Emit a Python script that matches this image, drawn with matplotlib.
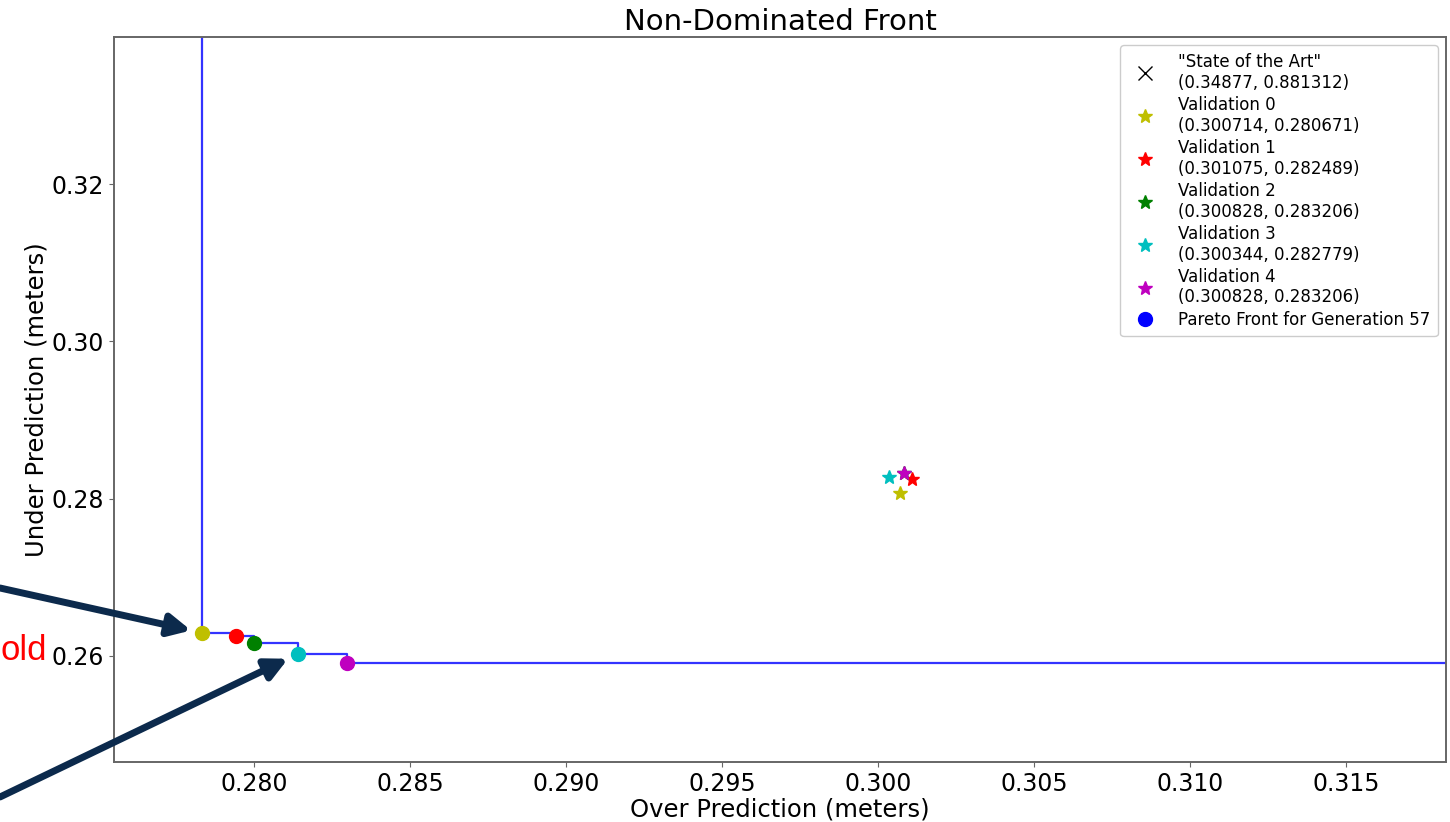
import matplotlib.pyplot as plt

# pareto front (generation 57)
front_x = [0.27833, 0.27942, 0.28000, 0.28141, 0.28298]
front_y = [0.26293, 0.26255, 0.26166, 0.26025, 0.25911]
front_colors = ['y', 'r', 'g', 'c', 'm']

# validation points (from legend)
val_names = ['Validation 0', 'Validation 1', 'Validation 2', 'Validation 3', 'Validation 4']
val_x = [0.300714, 0.301075, 0.300828, 0.300344, 0.300828]
val_y = [0.280671, 0.282489, 0.283206, 0.282779, 0.283206]
val_colors = ['y', 'r', 'g', 'c', 'm']

sota_x, sota_y = 0.34877, 0.881312

W, H = 1450, 822
fig = plt.figure(figsize=(W / 100, H / 100), dpi=100)
ax = fig.add_axes([114 / W, 1 - 762 / H, (1446 - 114) / W, (762 - 37) / H])

xlim = (0.27551, 0.31820)
ylim = (0.2465, 0.33873)

# sota point (falls outside view)
ax.plot(sota_x, sota_y, 'x', color='k', markersize=10,
        label='"State of the Art"\n(%s, %s)' % (sota_x, sota_y))

for name, x, y, c in zip(val_names, val_x, val_y, val_colors):
    ax.plot(x, y, '*', color=c, markersize=10.5, linestyle='none',
            label='%s\n(%s, %s)' % (name, x, y))

# step outline of the front
sx = [front_x[0]] + front_x + [1.0]
sy = [1.0] + front_y + [front_y[-1]]
ax.step(sx, sy, where='post', color='#3333ff', linewidth=1.6, zorder=2)
for x, y, c in zip(front_x, front_y, front_colors):
    ax.plot(x, y, 'o', color=c, markersize=10, zorder=3)
ax.plot([], [], 'o', color='b', markersize=10, linestyle='none',
        label='Pareto Front for Generation 57')

ax.set_xlim(*xlim)
ax.set_ylim(*ylim)
ax.set_xticks([0.280, 0.285, 0.290, 0.295, 0.300, 0.305, 0.310, 0.315])
ax.set_xticklabels(['%.3f' % t for t in ax.get_xticks()])
ax.set_yticks([0.26, 0.28, 0.30, 0.32])
ax.set_yticklabels(['%.2f' % t for t in ax.get_yticks()])
ax.tick_params(labelsize=17, color='#666666')
for s in ax.spines.values():
    s.set_color('#666666')
    s.set_linewidth(1.4)

ax.set_title('Non-Dominated Front', fontsize=21, pad=5)
ax.set_xlabel('Over Prediction (meters)', fontsize=17.5, labelpad=1)
ax.set_ylabel('Under Prediction (meters)', fontsize=17.5, labelpad=2)

ax.legend(loc='upper right', fontsize=12, handletextpad=1.0,
          borderpad=0.45, labelspacing=0.25, framealpha=1,
          borderaxespad=0.5)

# slide annotations
fig.text(1 / W, 1 - 650 / H, 'old', color='red', fontsize=25,
         ha='left', va='center', family='Liberation Sans')
arrow = dict(arrowstyle='-|>,head_length=1.3,head_width=0.65', color='#0c2a4c',
             linewidth=5, shrinkA=0, shrinkB=8)
ax.annotate('', xy=(front_x[0], front_y[0]), xytext=(0, 1 - 588 / H),
            textcoords='figure fraction', arrowprops=arrow, annotation_clip=False)
ax.annotate('', xy=(front_x[3], front_y[3]), xytext=(0, 1 - 797 / H),
            textcoords='figure fraction', arrowprops=arrow, annotation_clip=False)

fig.savefig('out.png', dpi=100)
